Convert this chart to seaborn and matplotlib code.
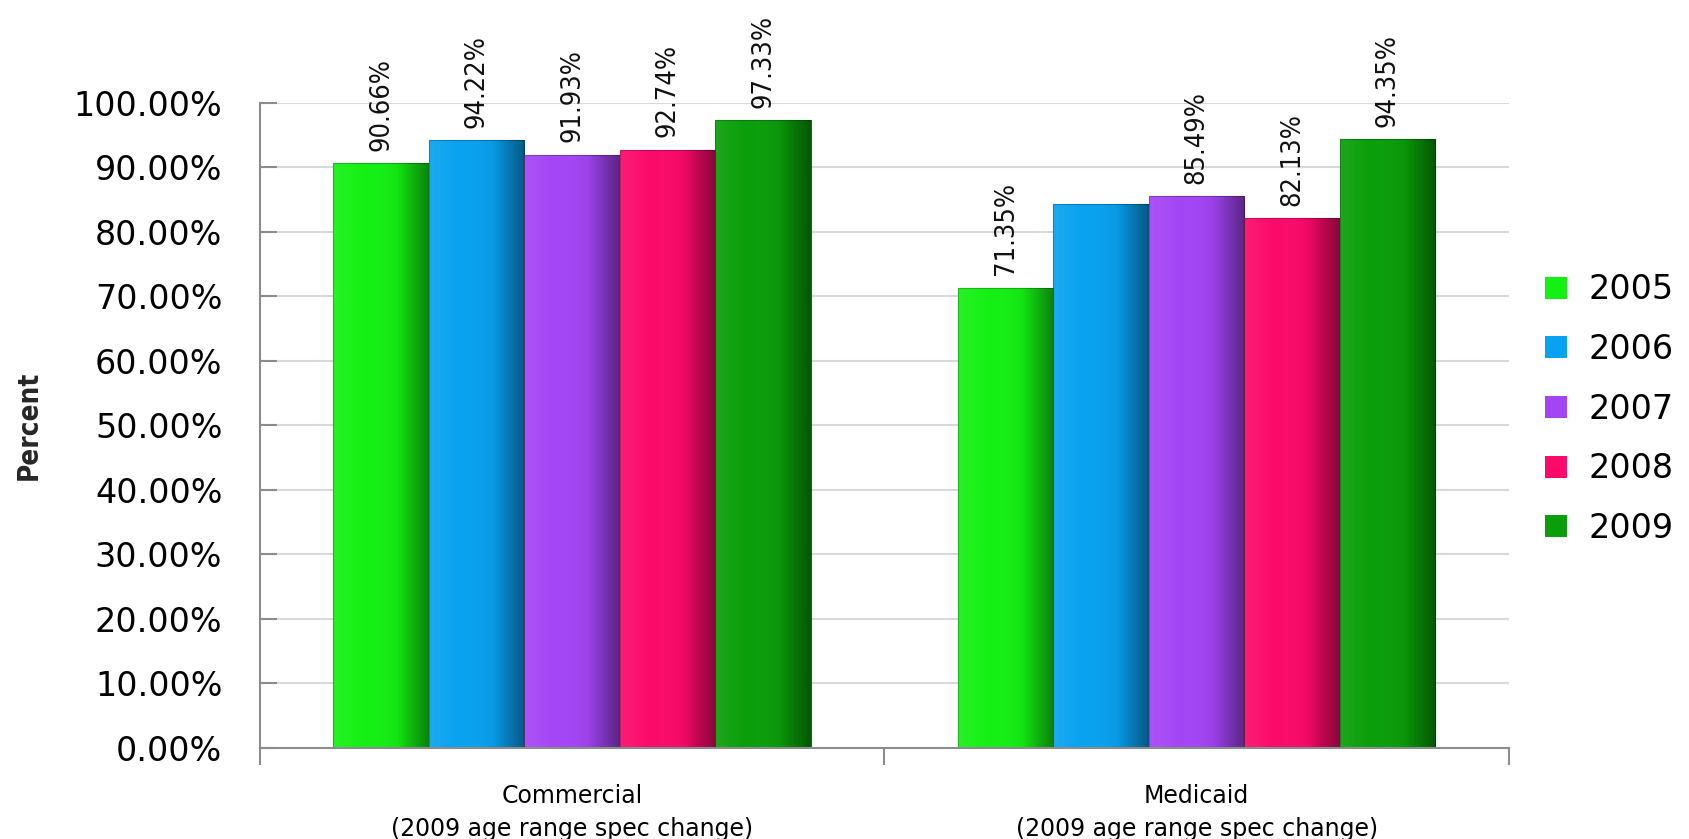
import numpy as np
import pandas as pd
import seaborn as sns
import matplotlib.pyplot as plt
from matplotlib.colors import LinearSegmentedColormap, to_rgb
from matplotlib.ticker import MultipleLocator, FixedLocator

# Chart data
groups = ["Commercial\n(2009 age range spec change)", "Medicaid\n(2009 age range spec change)"]
years = ["2005", "2006", "2007", "2008", "2009"]
commercial = [90.66, 94.22, 91.93, 92.74, 97.33]
medicaid = [71.35, 84.30, 85.49, 82.13, 94.35]
commercial_labels = ["90.66%", "94.22%", "91.93%", "92.74%", "97.33%"]
medicaid_labels = ["71.35%", "", "85.49%", "82.13%", "94.35%"]
colors = ["#14f014", "#08a2f0", "#a445f5", "#fb0a6a", "#0a9e0a"]

df = pd.DataFrame({
    "group": [groups[0]] * 5 + [groups[1]] * 5,
    "year": years * 2,
    "value": commercial + medicaid,
})

sns.set_style("white")
plt.rcParams["font.family"] = ["DejaVu Sans"]
plt.rcParams["text.color"] = "black"
plt.rcParams["xtick.color"] = "black"
plt.rcParams["ytick.color"] = "black"

fig = plt.figure(figsize=(16.9, 8.39), dpi=100)
ax = fig.add_axes([0.1538, 0.1085, 0.739, 0.769])

sns.barplot(data=df, x="group", y="value", hue="year", palette=colors,
            width=0.765, saturation=1, ax=ax, legend=True, edgecolor="none")

# fake the glossy 3D shading with a horizontal gradient clipped to each bar
shade = LinearSegmentedColormap.from_list(
    "shade", [(1, 1, 1, 0.08), (1, 1, 1, 0.0), (0, 0, 0, 0.05), (0, 0, 0, 0.45)])
grad = np.linspace(0, 1, 64).reshape(1, -1)
for bar in ax.patches[:10]:
    x0, y0 = bar.get_x(), bar.get_y()
    w, h = bar.get_width(), bar.get_height()
    im = ax.imshow(grad, cmap=shade, extent=[x0, x0 + w, y0, y0 + h],
                   aspect="auto", zorder=bar.get_zorder() + 0.1)
    im.set_clip_path(bar)
    bar.set_edgecolor(tuple(c * 0.75 for c in to_rgb(bar.get_facecolor())))
    bar.set_linewidth(0.8)

# value labels (seaborn orders patches by hue, then group)
for i, bar in enumerate(ax.patches[:10]):
    hue_i, grp_i = i // 2, i % 2
    txt = commercial_labels[hue_i] if grp_i == 0 else medicaid_labels[hue_i]
    if not txt:
        continue
    ax.annotate(txt, (bar.get_x() + bar.get_width() / 2, bar.get_height()),
                xytext=(0, 9), textcoords="offset points", rotation=90,
                ha="center", va="bottom", fontsize=19.5,
                fontstretch="condensed", color="#111111", annotation_clip=False)

ax.set_xlim(-0.5, 1.5)
ax.set_ylim(0, 100)
ax.yaxis.set_major_locator(MultipleLocator(10))
ax.set_yticklabels([f"{v:.2f}%" for v in ax.get_yticks()])
ax.yaxis.grid(True, color="#d9d9d9", linewidth=1.5)
ax.set_axisbelow(True)

for s in ["top", "right"]:
    ax.spines[s].set_visible(False)
for s in ["left", "bottom"]:
    ax.spines[s].set_color("#8c8c8c")
    ax.spines[s].set_linewidth(1.5)

ax.tick_params(axis="y", left=True, direction="in", length=12, width=1.5,
               color="#8c8c8c", labelsize=24, pad=27)
ax.tick_params(axis="x", which="major", length=0, labelsize=17, pad=26)
ax.xaxis.set_minor_locator(FixedLocator([-0.5, 0.5, 1.5]))
ax.tick_params(axis="x", which="minor", bottom=True, direction="out", length=12,
               width=1.5, color="#8c8c8c")
for lab in ax.get_xticklabels():
    lab.set_linespacing(1.45)
ax.set_xlabel("")
ax.set_ylabel("Percent", fontsize=20, fontweight="bold",
              fontstretch="condensed", labelpad=22)

handles, labels = ax.get_legend_handles_labels()
ax.legend(handles, labels, loc="center left", bbox_to_anchor=(1.005, 0.525),
          frameon=False, fontsize=24, handlelength=0.65, handleheight=0.65,
          handletextpad=0.65, labelspacing=0.8)

fig.savefig("out.png", dpi=100)
